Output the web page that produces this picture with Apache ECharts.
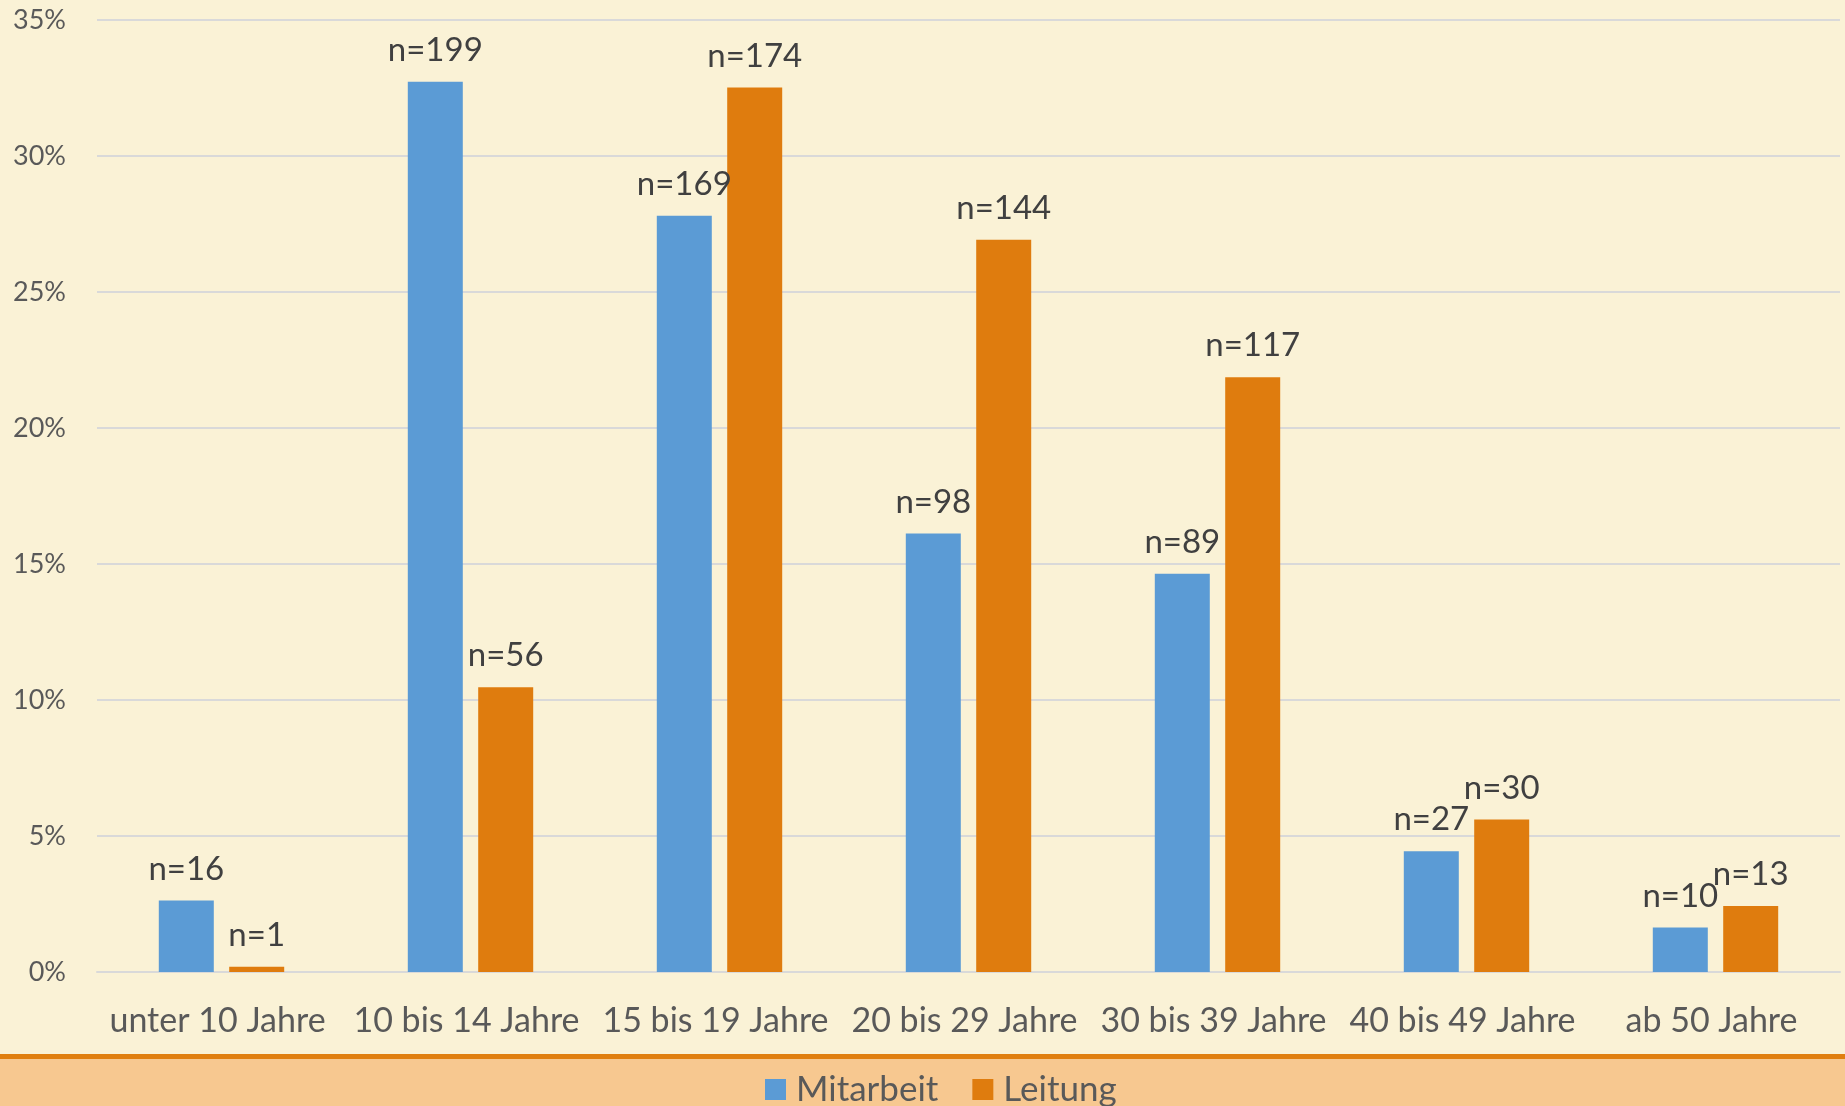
<!DOCTYPE html>
<html>
<head>
<meta charset="utf-8">
<script src="https://cdn.jsdelivr.net/npm/echarts@6/dist/echarts.min.js"></script>
<style>
  html, body { margin: 0; padding: 0; background: #FAF2D6; }
  .band {
    position: absolute; left: 0; top: 1054px; width: 1845px; height: 47px;
    background: #F7C890; border-top: 5px solid #E07F10;
  }
  #chart { position: absolute; left: 0; top: 0; width: 1845px; height: 1106px; }
</style>
</head>
<body>
<div class="band"></div>
<div id="chart"></div>
<script>
// age groups
const categories = ['unter 10 Jahre', '10 bis 14 Jahre', '15 bis 19 Jahre', '20 bis 29 Jahre',
  '30 bis 39 Jahre', '40 bis 49 Jahre', 'ab 50 Jahre']

// share in percent
const mitarbeitPct = [2.63, 32.73, 27.80, 16.12, 14.64, 4.44, 1.64]
const leitungPct = [0.19, 10.47, 32.52, 26.92, 21.87, 5.61, 2.43]

// counts shown above the bars
const mitarbeitN = [16, 199, 169, 98, 89, 27, 10]
const leitungN = [1, 56, 174, 144, 117, 30, 13]

const FONT = 'Lato'
const chart = echarts.init(document.getElementById('chart'))

function barLabel(counts) {
  return {
    show: true,
    position: 'top',
    distance: 15,
    color: '#404040',
    fontFamily: FONT,
    fontSize: 33,
    formatter: (p) => 'n=' + counts[p.dataIndex],
  }
}

chart.setOption({
  backgroundColor: 'transparent',
  animation: false,
  grid: { left: 97, right: 5, top: 20, bottom: 134 },
  legend: {
    data: ['Mitarbeit', 'Leitung'],
    left: 760,
    top: 1067,
    icon: 'rect',
    itemWidth: 21,
    itemHeight: 21,
    itemGap: 34,
    textStyle: { color: '#595959', fontFamily: FONT, fontSize: 35, padding: [0, 0, 0, 5] },
  },
  xAxis: {
    type: 'category',
    data: categories,
    axisTick: { show: false },
    axisLine: { lineStyle: { color: '#D9D9D9', width: 2 } },
    axisLabel: {
      color: '#595959', fontFamily: FONT, fontSize: 34, margin: 32, interval: 0,
      padding: [0, 8, 0, 0],
    },
  },
  yAxis: {
    type: 'value',
    min: 0,
    max: 35,
    interval: 5,
    axisLine: { show: false },
    axisTick: { show: false },
    axisLabel: { color: '#595959', fontFamily: FONT, fontSize: 27, margin: 31, formatter: '{value}%' },
    splitLine: { lineStyle: { color: '#D9D9D9', width: 2 } },
  },
  series: [
    {
      name: 'Mitarbeit',
      type: 'bar',
      data: mitarbeitPct,
      barWidth: 55,
      barGap: '28%',
      itemStyle: { color: '#5B9BD5' },
      label: barLabel(mitarbeitN),
    },
    {
      name: 'Leitung',
      type: 'bar',
      data: leitungPct,
      barWidth: 55,
      barGap: '28%',
      itemStyle: { color: '#DF7C0E' },
      label: barLabel(leitungN),
    },
  ],
})

window.addEventListener('resize', () => chart.resize())
</script>
</body>
</html>
